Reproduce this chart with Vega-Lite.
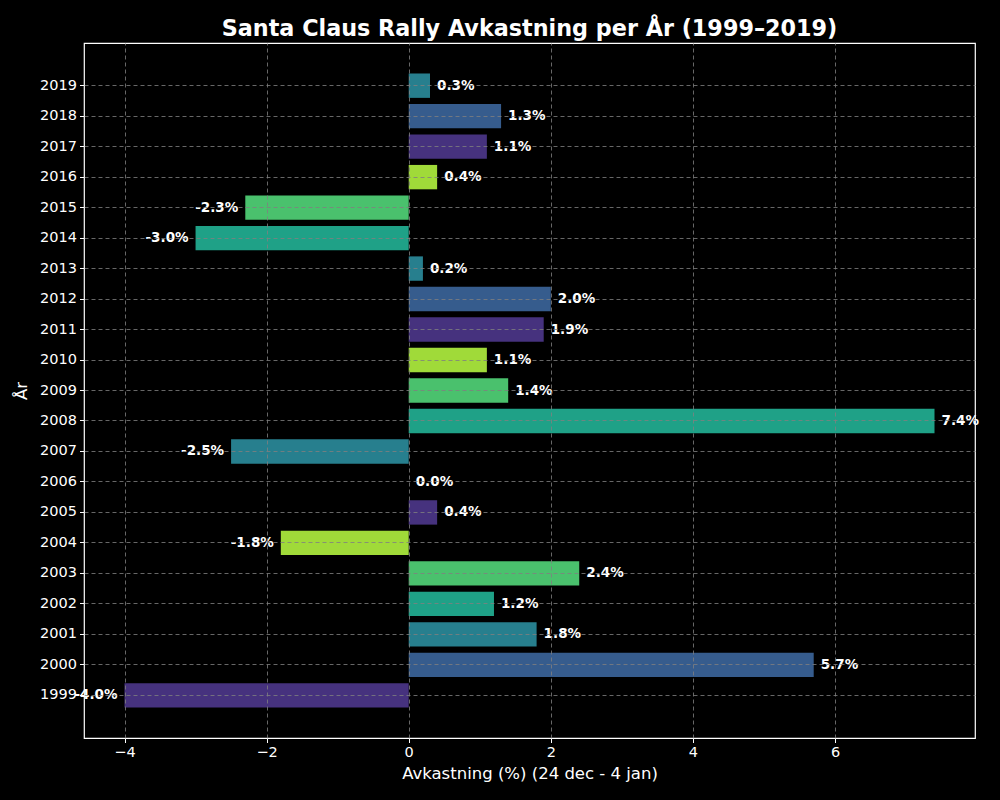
{
  "$schema": "https://vega.github.io/schema/vega-lite/v6.json",
  "width": 891,
  "height": 695,
  "autosize": {"type": "none"},
  "padding": {"left": 84, "top": 43, "right": 25, "bottom": 62},
  "background": "#000000",
  "config": {
    "font": "DejaVu Sans",
    "view": {"stroke": "#ffffff", "strokeWidth": 1.2},
    "axis": {
      "labelColor": "#ffffff",
      "titleColor": "#ffffff",
      "tickColor": "#ffffff",
      "domain": false,
      "labelFont": "DejaVu Sans",
      "titleFont": "DejaVu Sans",
      "labelFontSize": 14.5,
      "titleFontSize": 16.5,
      "titleFontWeight": "normal",
      "gridColor": "#808080",
      "gridDash": [4, 3],
      "gridWidth": 0.9,
      "gridOpacity": 0.9,
      "tickSize": 4.5,
      "labelPadding": 3
    }
  },
  "title": {
    "text": "Santa Claus Rally Avkastning per År (1999–2019)",
    "color": "#ffffff",
    "fontSize": 22.3,
    "fontWeight": "bold",
    "font": "DejaVu Sans",
    "anchor": "middle",
    "offset": 3
  },
  "data": {
    "values": [
      {"year": "1999", "ret": -4.0, "label": "-4.0%", "c": "a"},
      {"year": "2000", "ret": 5.7, "label": "5.7%", "c": "b"},
      {"year": "2001", "ret": 1.8, "label": "1.8%", "c": "c"},
      {"year": "2002", "ret": 1.2, "label": "1.2%", "c": "d"},
      {"year": "2003", "ret": 2.4, "label": "2.4%", "c": "e"},
      {"year": "2004", "ret": -1.8, "label": "-1.8%", "c": "f"},
      {"year": "2005", "ret": 0.4, "label": "0.4%", "c": "a"},
      {"year": "2006", "ret": 0.0, "label": "0.0%", "c": "b"},
      {"year": "2007", "ret": -2.5, "label": "-2.5%", "c": "c"},
      {"year": "2008", "ret": 7.4, "label": "7.4%", "c": "d"},
      {"year": "2009", "ret": 1.4, "label": "1.4%", "c": "e"},
      {"year": "2010", "ret": 1.1, "label": "1.1%", "c": "f"},
      {"year": "2011", "ret": 1.9, "label": "1.9%", "c": "a"},
      {"year": "2012", "ret": 2.0, "label": "2.0%", "c": "b"},
      {"year": "2013", "ret": 0.2, "label": "0.2%", "c": "c"},
      {"year": "2014", "ret": -3.0, "label": "-3.0%", "c": "d"},
      {"year": "2015", "ret": -2.3, "label": "-2.3%", "c": "e"},
      {"year": "2016", "ret": 0.4, "label": "0.4%", "c": "f"},
      {"year": "2017", "ret": 1.1, "label": "1.1%", "c": "a"},
      {"year": "2018", "ret": 1.3, "label": "1.3%", "c": "b"},
      {"year": "2019", "ret": 0.3, "label": "0.3%", "c": "c"}
    ]
  },
  "encoding": {
    "y": {
      "field": "year",
      "type": "ordinal",
      "sort": "descending",
      "scale": {"paddingInner": 0.2, "paddingOuter": 1.04},
      "axis": {"title": "År", "grid": true, "zindex": 1, "titlePadding": 10}
    },
    "x": {
      "field": "ret",
      "type": "quantitative",
      "scale": {"domain": [-4.57, 7.97], "nice": false, "zero": false},
      "axis": {
        "title": "Avkastning (%) (24 dec - 4 jan)",
        "values": [-4, -2, 0, 2, 4, 6],
        "grid": true,
        "zindex": 1,
        "titlePadding": 6
      }
    }
  },
  "layer": [
    {
      "mark": {"type": "bar", "strokeWidth": 0, "opacity": 1},
      "encoding": {
        "x2": {"datum": 0},
        "color": {
          "field": "c",
          "type": "nominal",
          "scale": {
            "domain": ["a", "b", "c", "d", "e", "f"],
            "range": ["#46327e", "#365c8d", "#277f8e", "#1fa187", "#4ac16d", "#a0da39"]
          },
          "legend": null
        }
      }
    },
    {
      "transform": [{"filter": "datum.ret >= 0"}],
      "mark": {"type": "text", "align": "left", "baseline": "middle", "dx": 7, "fontWeight": "bold", "fontSize": 13.5, "color": "#ffffff"},
      "encoding": {"text": {"field": "label"}}
    },
    {
      "transform": [{"filter": "datum.ret < 0"}],
      "mark": {"type": "text", "align": "right", "baseline": "middle", "dx": -7, "fontWeight": "bold", "fontSize": 13.5, "color": "#ffffff"},
      "encoding": {"text": {"field": "label"}}
    }
  ]
}
